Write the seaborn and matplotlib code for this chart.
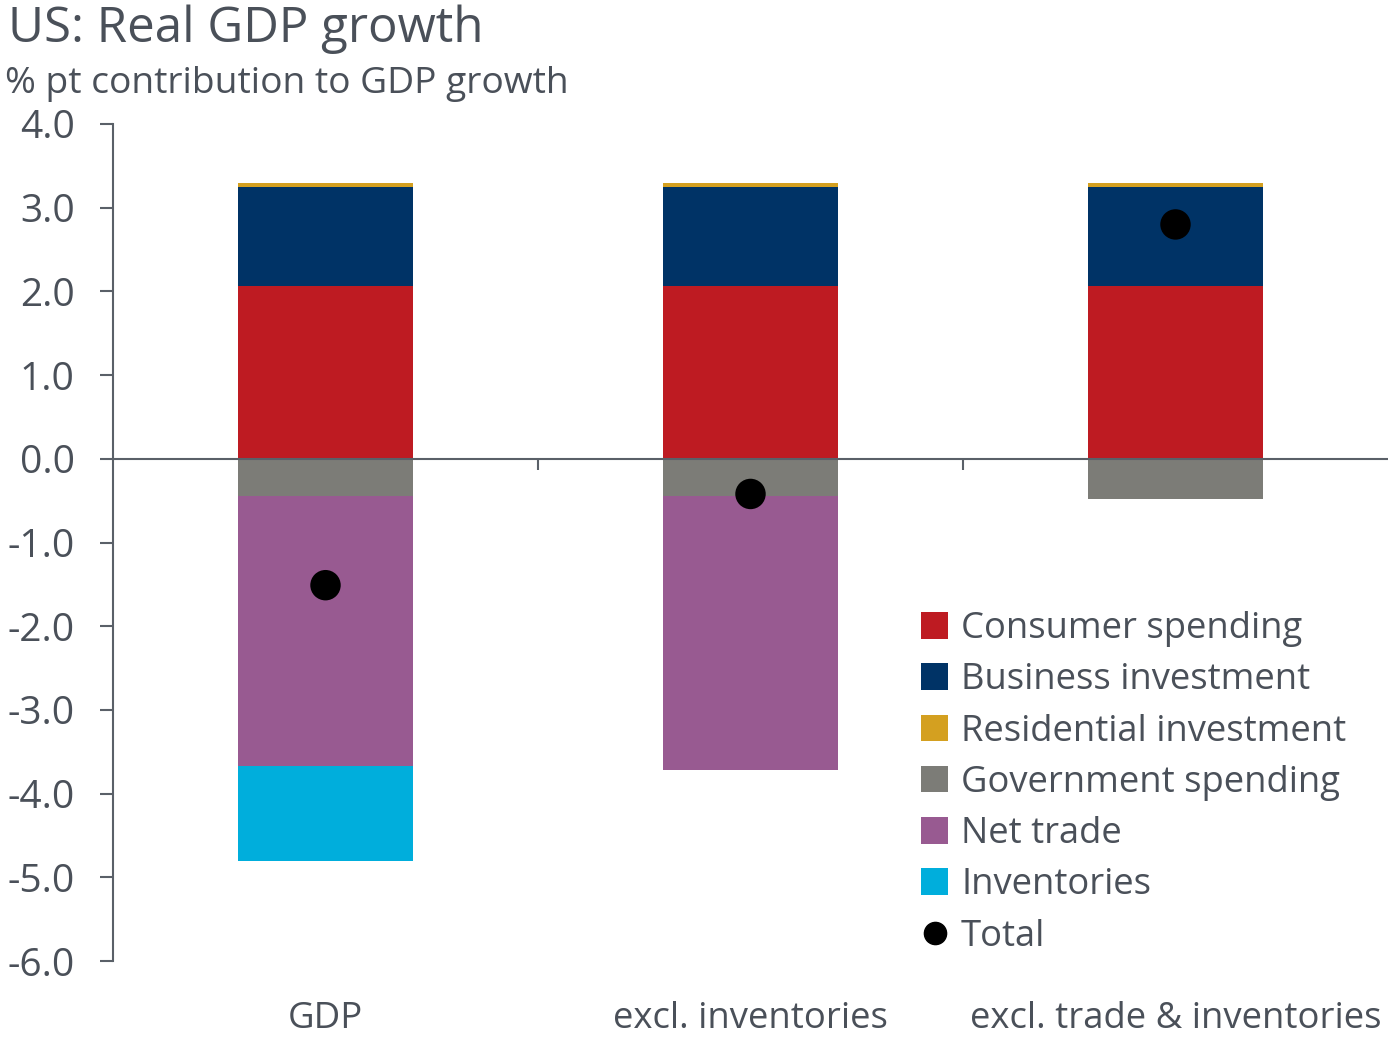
import numpy as np
import pandas as pd
import matplotlib
matplotlib.use("Agg")
import matplotlib.pyplot as plt
from matplotlib.lines import Line2D
from matplotlib.patches import Patch
import seaborn as sns

categories = ["GDP", "excl. inventories", "excl. trade & inventories"]
consumer = [2.06, 2.06, 2.06]
business = [1.19, 1.19, 1.19]
residential = [0.05, 0.05, 0.05]
government = [-0.45, -0.45, -0.48]
net_trade = [-3.22, -3.27, 0.0]
inventories = [-1.14, 0.0, 0.0]
total = [-1.51, -0.42, 2.80]

series_names = ["Consumer spending", "Business investment", "Residential investment",
                "Government spending", "Net trade", "Inventories"]
series_vals = [consumer, business, residential, government, net_trade, inventories]
colors = ["#BE1B22", "#003366", "#D4A020", "#7C7C77", "#985A91", "#00AEDC"]
text_color = "#4A5059"
axis_color = "#5A6068"

sns.set_theme(style="white")
plt.rcParams['font.family'] = ['Open Sans', 'DejaVu Sans']

fig = plt.figure(figsize=(13.88, 10.37), dpi=100)
ax = fig.add_axes([113/1388, 1-961/1037, 1-113/1388, (961-124)/1037])

pos_base = np.zeros(3)
neg_base = np.zeros(3)
handles = []
for name, vals, col in zip(series_names, series_vals, colors):
    v = np.array(vals, dtype=float)
    bottoms = np.where(v >= 0, pos_base, neg_base)
    df = pd.DataFrame({"cat": categories, "val": v})
    sns.barplot(data=df, x="cat", y="val", order=categories, color=col,
                saturation=1, width=0.41, bottom=bottoms, errorbar=None,
                linewidth=0, ax=ax)
    pos_base = pos_base + np.where(v > 0, v, 0)
    neg_base = neg_base + np.where(v < 0, v, 0)
    handles.append(Patch(facecolor=col, edgecolor="none", label=name))

tdf = pd.DataFrame({"cat": categories, "val": total})
sns.scatterplot(data=tdf, x="cat", y="val", color="black", s=480,
                edgecolor="none", ax=ax, zorder=5, legend=False)
handles.append(Line2D([], [], marker="o", linestyle="none", color="black",
                      markersize=16, label="Total"))

ax.set_xlim(-0.5, 2.5)
ax.set_ylim(-6, 4)
ax.set_yticks(np.arange(-6, 4.1, 1.0))
ax.set_yticklabels([f"{t:.1f}" for t in np.arange(-6, 4.1, 1.0)])
ax.set_xticks([0.5, 1.5])
ax.set_xticklabels([])
ax.set_xlabel("")
ax.set_ylabel("")

for s in ["top", "right"]:
    ax.spines[s].set_visible(False)
ax.spines["bottom"].set_position(("data", 0))
for s in ["left", "bottom"]:
    ax.spines[s].set_color(axis_color)
    ax.spines[s].set_linewidth(1.5)
ax.tick_params(axis="y", direction="out", length=9.5, width=1.5, color=axis_color,
               labelsize=28, labelcolor=text_color, pad=18, left=True)
ax.tick_params(axis="x", direction="out", length=8, width=1.5, color=axis_color,
               bottom=True)

trans = matplotlib.transforms.blended_transform_factory(ax.transData, ax.transAxes)
for i, c in enumerate(categories):
    ax.text(i, -(1028-961)/837, c, transform=trans, ha="center", va="baseline",
            fontsize=26.3, color=text_color)

fig.text(8/1388, 1-42/1037, "US: Real GDP growth", fontsize=35.5,
         color=text_color, ha="left", va="baseline")
fig.text(5/1388, 1-93/1037, "% pt contribution to GDP growth", fontsize=26.8,
         color=text_color, ha="left", va="baseline")

leg = ax.legend(handles=handles, loc="upper left",
                bbox_to_anchor=(921/1388, 1-611/1037), bbox_transform=fig.transFigure,
                frameon=False, fontsize=26.2, handlelength=0.75, handleheight=0.75,
                handletextpad=0.35, labelspacing=0.42, borderpad=0, borderaxespad=0)
for t in leg.get_texts():
    t.set_color(text_color)

fig.savefig("out.png", dpi=100, facecolor="white")
